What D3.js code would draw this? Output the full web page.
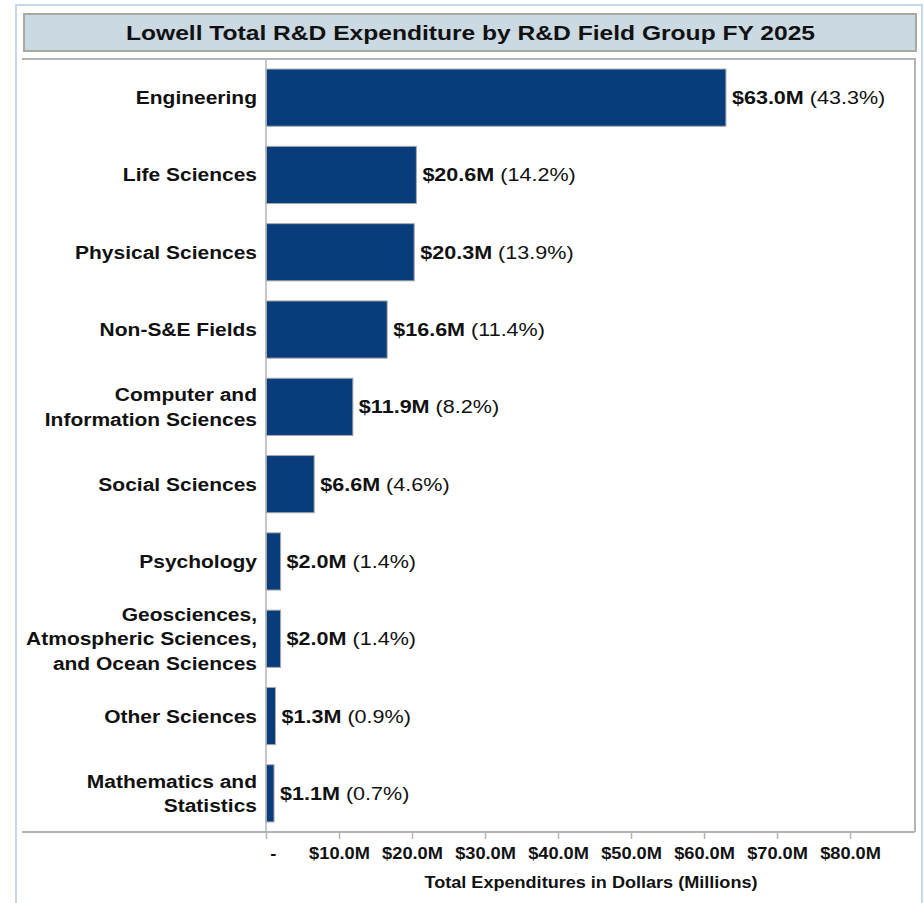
<!DOCTYPE html>
<html lang="en">
  <head>
    <meta charset="UTF-8" />
    <title>Lowell R&amp;D Expenditure</title>
    <script src="https://d3js.org/d3.v7.min.js"></script>
    <style>
      body { margin: 0; background: #fff; }
      svg text { font-family: "Liberation Sans", Arial, sans-serif; fill: #111; }
    </style>
  </head>
  <body>
    <svg id="canvas"></svg>
  </body>
  <script>
    // data
    let categories = [
      "Engineering",
      "Life Sciences",
      "Physical Sciences",
      "Non-S&E Fields",
      "Computer and Information Sciences",
      "Social Sciences",
      "Psychology",
      "Geosciences, Atmospheric Sciences, and Ocean Sciences",
      "Other Sciences",
      "Mathematics and Statistics",
    ];
    let categoryLines = [
      ["Engineering"],
      ["Life Sciences"],
      ["Physical Sciences"],
      ["Non-S&E Fields"],
      ["Computer and", "Information Sciences"],
      ["Social Sciences"],
      ["Psychology"],
      ["Geosciences,", "Atmospheric Sciences,", "and Ocean Sciences"],
      ["Other Sciences"],
      ["Mathematics and", "Statistics"],
    ];
    let values = [63.0, 20.6, 20.3, 16.6, 11.9, 6.6, 2.0, 2.0, 1.3, 1.1];
    let percents = [43.3, 14.2, 13.9, 11.4, 8.2, 4.6, 1.4, 1.4, 0.9, 0.7];
    let tickValues = [0, 10, 20, 30, 40, 50, 60, 70, 80];
    let tickLabels = ["-", "$10.0M", "$20.0M", "$30.0M", "$40.0M", "$50.0M", "$60.0M", "$70.0M", "$80.0M"];

    let width = 924;
    let height = 903;
    let plotLeft = 266;
    let plotRight = 915;
    let plotTop = 59;
    let plotBottom = 832;

    let svg = d3.select("svg").attr("width", width).attr("height", height);

    // the source renders its text a bit wide, so stretch it horizontally
    let place = (x, y, sx) => "translate(" + x + "," + y + ") scale(" + sx + ",1)";

    // outer light blue frame
    svg.append("path")
      .attr("d", "M16," + height + " V5 H922 V" + height)
      .attr("fill", "none")
      .attr("stroke", "#c6d8ec")
      .attr("stroke-width", 2);

    // title box
    svg.append("rect")
      .attr("x", 24).attr("y", 14)
      .attr("width", 892).attr("height", 37)
      .attr("fill", "#cbd9e2")
      .attr("stroke", "#aaa99e")
      .attr("stroke-width", 2);

    svg.append("text")
      .attr("transform", place(470.5, 40, 1.23))
      .attr("text-anchor", "middle")
      .attr("font-size", 20)
      .attr("font-weight", "bold")
      .text("Lowell Total R&D Expenditure by R&D Field Group FY 2025");

    let xScale = d3.scaleLinear()
      .domain([0, 88.9])
      .range([plotLeft, plotRight]);

    let yScale = d3.scaleBand()
      .domain(categories)
      .range([plotTop, plotBottom])
      .paddingInner(0.26)
      .paddingOuter(0.13);

    // plot frame: top and right
    svg.append("path")
      .attr("d", "M22," + plotTop + " H" + plotRight + " V" + plotBottom)
      .attr("fill", "none")
      .attr("stroke", "#b4b4b4")
      .attr("stroke-width", 2);

    // bars
    svg.selectAll("rect.bar")
      .data(values)
      .enter()
      .append("rect")
      .attr("class", "bar")
      .attr("x", xScale(0))
      .attr("y", (d, i) => yScale(categories[i]))
      .attr("width", (d) => xScale(d) - xScale(0))
      .attr("height", yScale.bandwidth())
      .attr("fill", "#083c7a")
      .attr("stroke", "#a9a9a9")
      .attr("stroke-width", 1);

    // value labels
    let valueLabels = svg.selectAll("text.value")
      .data(values)
      .enter()
      .append("text")
      .attr("class", "value")
      .attr("transform", (d, i) =>
        place(xScale(d) + 6, yScale(categories[i]) + yScale.bandwidth() / 2 + 6.5, 1.135))
      .attr("font-size", 19);
    valueLabels.append("tspan")
      .attr("font-weight", "bold")
      .text((d) => "$" + d.toFixed(1) + "M");
    valueLabels.append("tspan")
      .text((d, i) => " (" + percents[i].toFixed(1) + "%)");

    // category labels
    let catLabels = svg.selectAll("text.cat")
      .data(categoryLines)
      .enter()
      .append("text")
      .attr("class", "cat")
      .attr("text-anchor", "end")
      .attr("font-size", 18)
      .attr("font-weight", "bold")
      .attr("transform", (lines, i) => {
        let cy = yScale(categories[i]) + yScale.bandwidth() / 2;
        return place(257, cy - ((lines.length - 1) * 24.5) / 2 + 6.5, 1.166);
      });
    catLabels.each(function (lines) {
      d3.select(this)
        .selectAll("tspan")
        .data(lines)
        .enter()
        .append("tspan")
        .attr("x", 0)
        .attr("y", (l, j) => j * 24.5)
        .text((l) => l);
    });

    // x axis
    let xAxis = d3.axisBottom(xScale)
      .tickValues(tickValues)
      .tickFormat((d, i) => tickLabels[i])
      .tickSizeInner(7)
      .tickSizeOuter(0)
      .tickPadding(9);

    let gx = svg.append("g")
      .attr("transform", "translate(0," + plotBottom + ")")
      .call(xAxis);
    gx.select(".domain").remove();
    gx.selectAll(".tick line").attr("stroke", "#b4b4b4").attr("stroke-width", 1.5);
    gx.selectAll(".tick text")
      .attr("font-size", 16)
      .attr("font-weight", "bold")
      .attr("fill", "#111")
      .attr("font-family", "Liberation Sans, Arial, sans-serif")
      .attr("transform", "scale(1.14,1)");
    gx.selectAll(".tick text").filter((d) => d === 0).attr("dx", 6);

    // bottom baseline and y axis line
    svg.append("line")
      .attr("x1", 22).attr("x2", plotRight)
      .attr("y1", plotBottom).attr("y2", plotBottom)
      .attr("stroke", "#b4b4b4").attr("stroke-width", 2);
    svg.append("line")
      .attr("x1", plotLeft).attr("x2", plotLeft)
      .attr("y1", plotTop).attr("y2", plotBottom)
      .attr("stroke", "#b4b4b4").attr("stroke-width", 1.5);

    svg.append("text")
      .attr("transform", place(591, 888, 1.13))
      .attr("text-anchor", "middle")
      .attr("font-size", 16)
      .attr("font-weight", "bold")
      .text("Total Expenditures in Dollars (Millions)");
  </script>
</html>
